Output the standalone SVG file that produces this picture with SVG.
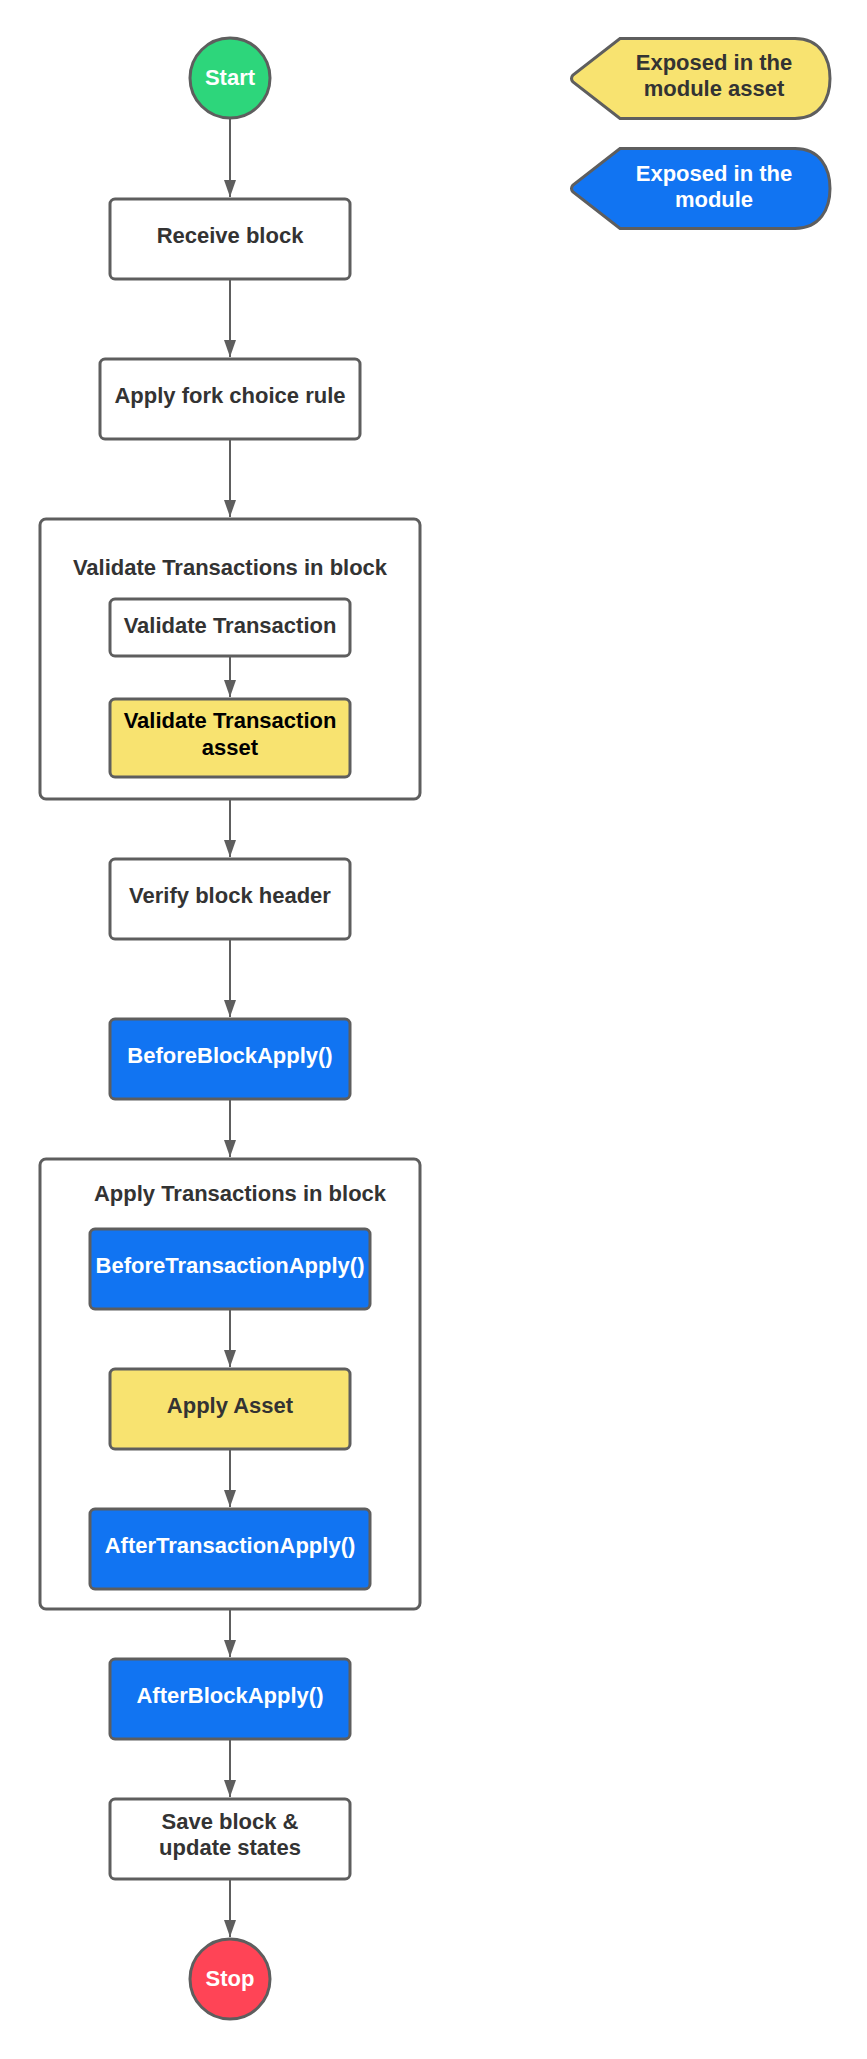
<svg xmlns="http://www.w3.org/2000/svg" width="867" height="2059" viewBox="0 0 867 2059">
<style>
text{font-family:"Liberation Sans",Arial,sans-serif;font-weight:bold;font-size:22px;text-anchor:middle;fill:#333333}
.box{stroke:#5E5E5E;stroke-width:3}
.w{fill:#FFFFFF}
.y{fill:#F8E370}
.b{fill:#1174F2}
.wt{fill:#FFFFFF}
.k{fill:#000000}
.conn line{stroke:#5E5E5E;stroke-width:2}
</style>
<defs>
<marker id="ah" markerUnits="userSpaceOnUse" markerWidth="17" markerHeight="12" viewBox="0 0 17 12" refX="17" refY="6" orient="auto">
<path d="M0,0 L17,6 L0,12 Z" fill="#5E5E5E"/>
</marker>
</defs>
<rect width="867" height="2059" fill="#FFFFFF"/>

<g id="legend-asset">
<path class="box y" d="M620,38.5 H795 C820,38.5 830,58 830,78.5 C830,99 820,118.5 795,118.5 H620 L573,82 Q570,78.5 573,75 Z"/>
<text x="714" y="70">Exposed in the</text>
<text x="714" y="96">module asset</text>
</g>
<g id="legend-module">
<path class="box b" d="M620,148.5 H795 C820,148.5 830,168 830,188.5 C830,209 820,228.5 795,228.5 H620 L573,192 Q570,188.5 573,185 Z"/>
<text class="wt" x="714" y="181">Exposed in the</text>
<text class="wt" x="714" y="207">module</text>
</g>

<g id="container-validate">
<rect class="box w" x="40" y="519" width="380" height="280" rx="6"/>
<text x="230" y="575">Validate Transactions in block</text>
</g>
<g id="container-apply">
<rect class="box w" x="40" y="1159" width="380" height="450" rx="6"/>
<text x="240" y="1201">Apply Transactions in block</text>
</g>

<g class="conn" id="connectors">
<line x1="230" y1="118" x2="230" y2="197" marker-end="url(#ah)"/>
<line x1="230" y1="279" x2="230" y2="357" marker-end="url(#ah)"/>
<line x1="230" y1="439" x2="230" y2="517" marker-end="url(#ah)"/>
<line x1="230" y1="656" x2="230" y2="697" marker-end="url(#ah)"/>
<line x1="230" y1="799" x2="230" y2="857" marker-end="url(#ah)"/>
<line x1="230" y1="939" x2="230" y2="1017" marker-end="url(#ah)"/>
<line x1="230" y1="1099" x2="230" y2="1157" marker-end="url(#ah)"/>
<line x1="230" y1="1309" x2="230" y2="1367" marker-end="url(#ah)"/>
<line x1="230" y1="1449" x2="230" y2="1507" marker-end="url(#ah)"/>
<line x1="230" y1="1609" x2="230" y2="1657" marker-end="url(#ah)"/>
<line x1="230" y1="1739" x2="230" y2="1797" marker-end="url(#ah)"/>
<line x1="230" y1="1879" x2="230" y2="1937" marker-end="url(#ah)"/>
</g>

<g id="start">
<circle cx="230" cy="78" r="40" fill="#2DD67B" stroke="#5E5E5E" stroke-width="3"/>
<text class="wt" x="230" y="85">Start</text>
</g>
<g id="receive-block">
<rect class="box w" x="110" y="199" width="240" height="80" rx="5"/>
<text x="230" y="243">Receive block</text>
</g>
<g id="fork-choice">
<rect class="box w" x="100" y="359" width="260" height="80" rx="5"/>
<text x="230" y="403">Apply fork choice rule</text>
</g>
<g id="validate-transaction">
<rect class="box w" x="110" y="599" width="240" height="57" rx="5"/>
<text x="230" y="633">Validate Transaction</text>
</g>
<g id="validate-transaction-asset">
<rect class="box y" x="110" y="699" width="240" height="78" rx="5"/>
<text class="k" x="230" y="728">Validate Transaction</text>
<text class="k" x="230" y="755">asset</text>
</g>
<g id="verify-header">
<rect class="box w" x="110" y="859" width="240" height="80" rx="5"/>
<text x="230" y="903">Verify block header</text>
</g>
<g id="before-block-apply">
<rect class="box b" x="110" y="1019" width="240" height="80" rx="5"/>
<text class="wt" x="230" y="1063">BeforeBlockApply()</text>
</g>
<g id="before-transaction-apply">
<rect class="box b" x="90" y="1229" width="280" height="80" rx="5"/>
<text class="wt" x="230" y="1273">BeforeTransactionApply()</text>
</g>
<g id="apply-asset">
<rect class="box y" x="110" y="1369" width="240" height="80" rx="5"/>
<text x="230" y="1413">Apply Asset</text>
</g>
<g id="after-transaction-apply">
<rect class="box b" x="90" y="1509" width="280" height="80" rx="5"/>
<text class="wt" x="230" y="1553">AfterTransactionApply()</text>
</g>
<g id="after-block-apply">
<rect class="box b" x="110" y="1659" width="240" height="80" rx="5"/>
<text class="wt" x="230" y="1703">AfterBlockApply()</text>
</g>
<g id="save-block">
<rect class="box w" x="110" y="1799" width="240" height="80" rx="5"/>
<text x="230" y="1829">Save block &amp;</text>
<text x="230" y="1855">update states</text>
</g>
<g id="stop">
<circle cx="230" cy="1979" r="40" fill="#FF4456" stroke="#5E5E5E" stroke-width="3"/>
<text class="wt" x="230" y="1986">Stop</text>
</g>
</svg>
